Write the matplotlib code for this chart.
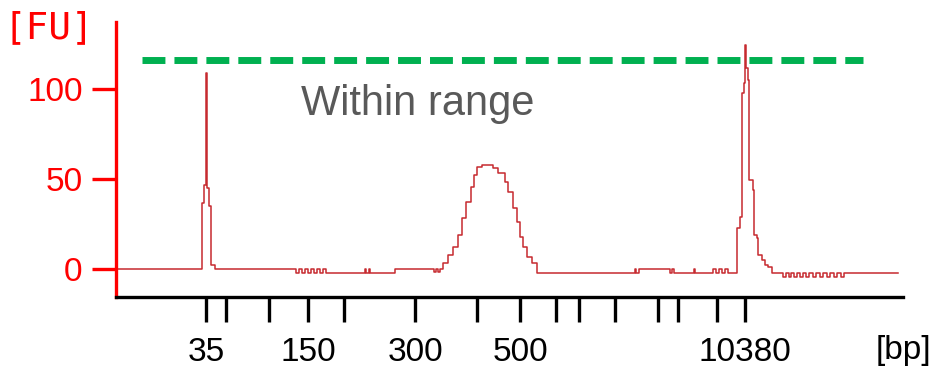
import matplotlib
matplotlib.use("Agg")
import matplotlib.pyplot as plt

# ladder sizes (bp) and where they sit on the migration axis (s)
ladder_bp = [35, 50, 100, 150, 200, 300, 400, 500, 600, 700, 1000, 2000, 3000, 7000, 10380]
ladder_time = [49.0, 51.0, 55.3, 59.2, 62.8, 69.9, 76.1, 80.4, 84.0, 86.3, 89.9, 94.2, 96.2, 100.1, 102.9]
shown_labels = [35, 150, 300, 500, 10380]

y_ticks = [0, 50, 100]
range_level = 116
range_start, range_end = 42.6, 114.7

# electropherogram trace (step, value holds until next time)
trace_t = [40.0, 48.6, 48.75, 48.95, 49.1, 49.3, 49.45, 49.85,
           58.0, 58.3, 58.6, 58.9, 59.2, 59.5, 59.8, 60.1, 60.4, 60.7, 61.0,
           64.9, 65.0, 65.3, 65.4, 67.9,
           71.8, 72.0, 72.2, 72.4,
           72.7, 73.2, 73.7, 74.2, 74.6, 75.0, 75.5, 75.8, 76.1, 76.6,
           77.7, 78.2, 78.9, 79.2, 79.7, 80.1, 80.4, 80.7, 81.1, 81.6, 82.1,
           91.9, 92.0, 92.3, 95.4, 95.6, 95.8,
           97.8, 97.9,
           99.7, 100.0, 100.3, 100.6, 100.9, 101.2,
           102.1, 102.4, 102.6, 102.8, 102.9, 103.0, 103.2, 103.3, 103.7, 103.8,
           104.1, 104.2, 104.6, 104.9, 105.2, 105.6,
           106.7, 107.0, 107.3, 107.5, 107.8, 108.1, 108.4, 108.7, 109.0, 109.3,
           109.7, 110.0, 110.4, 110.7, 111.1, 111.4, 111.8, 112.1, 112.5, 112.8,
           118.2]
trace_fu = [0, 36.7, 46.7, 109, 45, 35, 2, 0,
            -2.5, 0, -2.5, 0, -2.5, 0, -2.5, 0, -2.5, 0, -2.5,
            0, -2.5, 0, -2.5, 0,
            -1.5, 0, -1.5, 0,
            3.3, 7.8, 12.2, 18.9, 28.3, 37.2, 45.6, 52.2, 56.7, 57.8,
            56.1, 53.3, 48.3, 42.8, 33.9, 26.1, 17.8, 12.2, 6.7, 3.3, -2.2,
            0, -2.2, 0, -2.2, 0, -2.2,
            0, -2.2,
            0, -2.2, 0, -2.2, 0, -2.2,
            22.8, 28.9, 97.8, 103.3, 124.4, 111.7, 105, 49.4, 43.9, 18.9,
            17.2, 7.8, 5, 2.2, 1.1, -2.2,
            -4.5, -2.2, -4.5, -2.2, -4.5, -2.2, -4.5, -2.2, -4.5, -2.2,
            -4.5, -2.2, -4.5, -2.2, -4.5, -2.2, -4.5, -2.2, -4.5, -2.2,
            -2.2]

plt.rcParams['font.family'] = ['Liberation Sans', 'DejaVu Sans']

fig = plt.figure(figsize=(9.45, 3.72), dpi=100)
ax = fig.add_axes([0.1228, 0.2016, 0.8328, 0.7392])

ax.step(trace_t, trace_fu, where='post', color='#c62a2f', linewidth=1.1)
ax.plot([range_start, range_end], [range_level, range_level], color='#00b050',
        linewidth=5, linestyle=(0, (3.3, 1.3)), solid_capstyle='butt', dash_capstyle='butt')
ax.text(58.5, 85.6, 'Within range', color='#595959', fontsize=30, va='baseline', ha='left')

ax.set_xlim(40, 118.7)
ax.set_ylim(-15.56, 137.2)

for s in ['top', 'right']:
    ax.spines[s].set_visible(False)
ax.spines['left'].set_color('#ff0000')
ax.spines['left'].set_linewidth(2.4)
ax.spines['bottom'].set_color('black')
ax.spines['bottom'].set_linewidth(2.4)

ax.set_yticks(y_ticks)
ax.set_yticklabels([str(v) for v in y_ticks])
ax.tick_params(axis='y', colors='#ff0000', length=17, width=2.4, pad=7, labelsize=24)

ax.set_xticks(ladder_time)
ax.set_xticklabels([str(b) if b in shown_labels else '' for b in ladder_bp])
ax.tick_params(axis='x', colors='black', length=18, width=2.4, pad=11, labelsize=24)

fig.text(4 / 945, 0.925, '[FU]', color='#ff0000', fontsize=27, ha='left', va='center',
         family='DejaVu Sans Mono')
fig.text(903 / 945, 0.0565, '[bp]', color='black', fontsize=24, ha='center', va='center')

fig.savefig('out.png', dpi=100)
